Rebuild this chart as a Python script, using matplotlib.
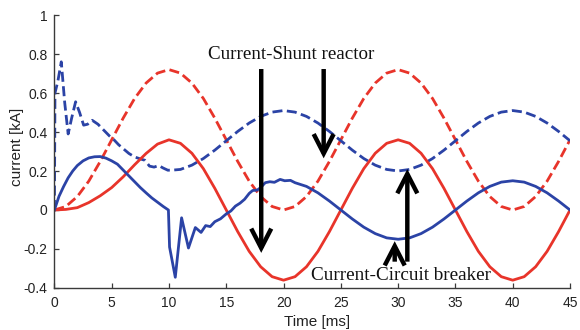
import matplotlib
matplotlib.use("Agg")
import matplotlib.pyplot as plt

# Time axes (ms) and currents (kA)
t_red = list(range(0, 46))
red_solid = [0.0, 0.003, 0.012, 0.038, 0.073, 0.115, 0.17, 0.232, 0.29, 0.338,
             0.36, 0.342, 0.291, 0.212, 0.111, 0.0, -0.111, -0.212, -0.291, -0.342,
             -0.36, -0.342, -0.291, -0.212, -0.111, 0.0, 0.111, 0.212, 0.291, 0.342,
             0.36, 0.342, 0.291, 0.212, 0.111, 0.0, -0.111, -0.212, -0.291, -0.342,
             -0.36, -0.342, -0.291, -0.212, -0.111, 0.0]
red_dashed = [0.0, 0.018, 0.069, 0.148, 0.249, 0.36, 0.471, 0.572, 0.651, 0.702,
              0.72, 0.702, 0.651, 0.572, 0.471, 0.36, 0.249, 0.148, 0.069, 0.018,
              0.0, 0.018, 0.069, 0.148, 0.249, 0.36, 0.471, 0.572, 0.651, 0.702,
              0.72, 0.702, 0.651, 0.572, 0.471, 0.36, 0.249, 0.148, 0.069, 0.018,
              0.0, 0.018, 0.069, 0.148, 0.249, 0.36]

t_blue_solid = [0, 0.4, 0.8, 1.2, 1.6, 2.0, 2.5, 3.0, 3.5, 4.0, 4.5, 5.0, 5.5, 6.0,
                6.5, 7.0, 7.5, 8.0, 8.5, 9.0, 9.5, 9.95, 10.05, 10.55, 11.1, 11.7,
                12.3, 12.8, 13.2, 13.6, 14.0, 14.5, 15.0, 15.4, 15.8, 16.2, 16.6,
                17.0, 17.3, 17.7, 18.0, 18.4, 18.8, 19.2, 19.7, 20.1, 20.6, 21.0,
                22, 23, 24, 25, 26, 27, 28, 29, 30, 31, 32, 33, 34, 35, 36, 37, 38,
                39, 40, 41, 42, 43, 44, 45]
blue_solid = [0.0, 0.07, 0.12, 0.165, 0.2, 0.228, 0.252, 0.267, 0.273, 0.274, 0.266,
              0.252, 0.235, 0.205, 0.175, 0.145, 0.115, 0.088, 0.062, 0.04, 0.018,
              0.0, -0.19, -0.345, -0.04, -0.195, -0.09, -0.115, -0.08, -0.085,
              -0.06, -0.045, -0.02, -0.005, 0.02, 0.035, 0.055, 0.085, 0.1, 0.102,
              0.115, 0.14, 0.145, 0.142, 0.157, 0.15, 0.152, 0.14,
              0.121, 0.088, 0.046, 0.0, -0.046, -0.088, -0.121, -0.143, -0.15,
              -0.143, -0.121, -0.088, -0.046, 0.0, 0.046, 0.088, 0.121, 0.143,
              0.15, 0.143, 0.121, 0.088, 0.046, 0.0]

t_blue_dashed = [0, 0.05, 0.3, 0.6, 0.9, 1.2, 1.5, 1.85, 2.2, 2.55, 2.9, 3.3, 3.8,
                 4.3, 4.8, 5.2, 5.6, 6.0, 6.5, 7.0, 7.5, 7.9, 8.3, 8.7, 9.1, 9.5,
                 9.9, 10.4, 11, 12, 13, 14, 15, 16, 17, 18, 19, 20, 21, 22, 23, 24,
                 25, 26, 27, 28, 29, 30, 31, 32, 33, 34, 35, 36, 37, 38, 39, 40, 41,
                 42, 43, 44, 45]
blue_dashed = [0.0, 0.6, 0.66, 0.76, 0.55, 0.39, 0.47, 0.555, 0.5, 0.435, 0.44,
               0.46, 0.44, 0.41, 0.38, 0.36, 0.335, 0.315, 0.29, 0.272, 0.262,
               0.255, 0.225, 0.22, 0.228, 0.215, 0.204, 0.205, 0.208, 0.23, 0.264,
               0.307, 0.355, 0.403, 0.446, 0.48, 0.502, 0.51, 0.502, 0.48, 0.446,
               0.403, 0.355, 0.307, 0.264, 0.23, 0.208, 0.2, 0.208, 0.23, 0.264,
               0.307, 0.355, 0.403, 0.446, 0.48, 0.502, 0.51, 0.502, 0.48, 0.446,
               0.403, 0.355]

x_ticks = [0, 5, 10, 15, 20, 25, 30, 35, 40, 45]
y_ticks = [-0.4, -0.2, 0, 0.2, 0.4, 0.6, 0.8, 1]
y_tick_labels = ["-0.4", "-0.2", "0", "0.2", "0.4", "0.6", "0.8", "1"]

RED = "#e8342a"
BLUE = "#2b43a6"

fig = plt.figure(figsize=(5.8, 3.3), dpi=100)
ax = fig.add_axes([0.0938, 0.1273, 0.889, 0.8272])

lw = 2.0
ax.plot(t_red, red_dashed, color=RED, lw=lw, dashes=(3.6, 1.6))
ax.plot(t_blue_dashed, blue_dashed, color=BLUE, lw=lw, dashes=(3.6, 1.6))
ax.plot(t_red, red_solid, color=RED, lw=lw)
ax.plot(t_blue_solid, blue_solid, color=BLUE, lw=lw, solid_joinstyle="round")

ax.set_xlim(0, 45)
ax.set_ylim(-0.4, 1.0)
ax.set_xticks(x_ticks)
ax.set_yticks(y_ticks)
ax.set_yticklabels(y_tick_labels)

for side in ("top", "right"):
    ax.spines[side].set_visible(False)
for side in ("left", "bottom"):
    ax.spines[side].set_color("#3a3a3a")
    ax.spines[side].set_linewidth(1.0)

ax.tick_params(direction="in", length=3.5, width=0.9, color="#3a3a3a",
               labelsize=10, labelcolor="#222222")
ax.tick_params(axis="x", pad=6)
ax.tick_params(axis="y", pad=5)
for lab in ax.get_xticklabels() + ax.get_yticklabels():
    lab.set_family(["Liberation Sans", "DejaVu Sans"])

ax.set_xlabel("Time [ms]", fontsize=11, family=["Liberation Sans"], color="#222222")
ax.set_ylabel("current [kA]", fontsize=11, family=["Liberation Sans"], color="#222222")
ax.xaxis.set_label_coords(0.509, -0.125)
ax.yaxis.set_label_coords(-0.0725, 0.516)
ax.xaxis.label.set_verticalalignment("center")
ax.yaxis.label.set_verticalalignment("center")

# Annotation arrows
arrow_style = "->,head_length=0.7,head_width=0.36"
def arrow(x0, y0, x1, y1):
    ax.annotate("", xy=(x1, y1), xytext=(x0, y0),
                arrowprops=dict(arrowstyle=arrow_style, lw=3.2, color="black",
                                shrinkA=0, shrinkB=0, mutation_scale=20,
                                joinstyle="miter", capstyle="butt"))

arrow(18.05, 0.723, 18.05, -0.22)
arrow(23.5, 0.723, 23.5, 0.265)
arrow(30.8, -0.265, 30.8, 0.21)
arrow(29.7, -0.265, 29.7, -0.16)

ax.text(20.65, 0.795, "Current-Shunt reactor", fontsize=13.7,
        family=["Liberation Serif"], ha="center", va="center", color="#111111")
ax.text(30.25, -0.338, "Current-Circuit breaker", fontsize=13.8,
        family=["Liberation Serif"], ha="center", va="center", color="#111111")

fig.savefig("out.png", dpi=100)
